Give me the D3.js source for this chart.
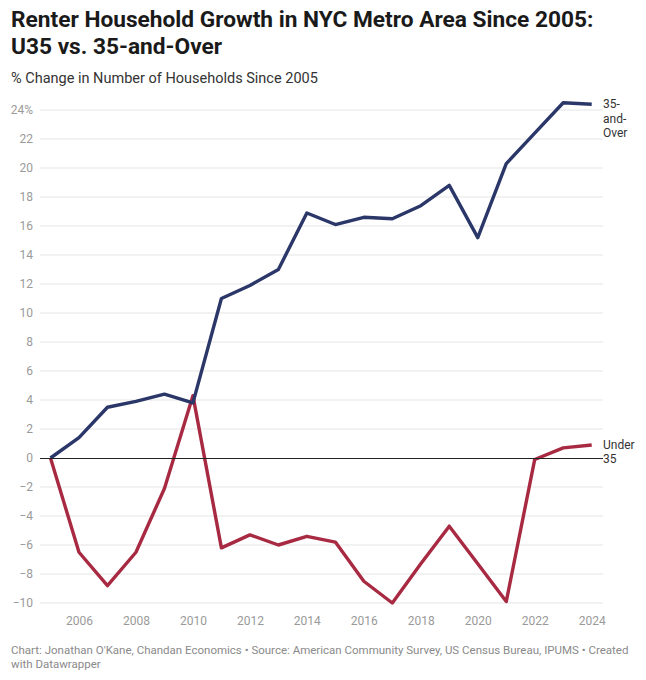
<!DOCTYPE html>
<html>
<head>
<meta charset="utf-8">
<script src="https://cdn.jsdelivr.net/npm/d3@7"></script>
<style>
  body { margin: 0; background: #fff; font-family: Roboto, "Noto Sans", sans-serif; }
</style>
</head>
<body>
<div id="chart"></div>
<script>
// data
const years = [2005, 2006, 2007, 2008, 2009, 2010, 2011, 2012, 2013, 2014,
               2015, 2016, 2017, 2018, 2019, 2020, 2021, 2022, 2023, 2024];
const over35 = [0, 1.4, 3.5, 3.9, 4.4, 3.8, 11.0, 11.9, 13.0, 16.9,
                16.1, 16.6, 16.5, 17.4, 18.8, 15.2, 20.3, 22.4, 24.5, 24.4];
const under35 = [0, -6.5, -8.8, -6.5, -2.1, 4.3, -6.2, -5.3, -6.0, -5.4,
                 -5.8, -8.5, -10.0, -7.3, -4.7, -7.3, -9.9, -0.1, 0.7, 0.9];
const yTicks = [-10, -8, -6, -4, -2, 0, 2, 4, 6, 8, 10, 12, 14, 16, 18, 20, 22, 24];
const xTicks = [2006, 2008, 2010, 2012, 2014, 2016, 2018, 2020, 2022, 2024];
const seriesNames = [["35-", "and-", "Over"], ["Under", "35"]];

const W = 646, H = 680;
const plot = {left: 40, right: 603, top: 110, bottom: 603};

const svg = d3.select("#chart")
    .append("svg")
    .attr("width", W)
    .attr("height", H);

// title + subtitle
const title = svg.append("text")
    .attr("x", 11)
    .attr("y", 27)
    .style("font-size", "22.7px")
    .style("font-weight", "700")
    .attr("fill", "#1a1a1a");
title.append("tspan").attr("x", 11).text("Renter Household Growth in NYC Metro Area Since 2005:");
title.append("tspan").attr("x", 11).attr("dy", 26.5).text("U35 vs. 35-and-Over");

svg.append("text")
    .attr("x", 11)
    .attr("y", 83)
    .style("font-size", "14.5px")
    .attr("fill", "#333")
    .text("% Change in Number of Households Since 2005");

// scales
const x = d3.scaleLinear()
    .domain([2005, 2024])
    .range([50.5, 591.7]);

const y = d3.scaleLinear()
    .domain([-10, 24])
    .range([plot.bottom, plot.top]);

// grid lines
svg.append("g")
    .selectAll("line")
    .data(yTicks.filter(d => d !== 0))
    .join("line")
    .attr("x1", plot.left)
    .attr("x2", plot.right)
    .attr("y1", d => y(d))
    .attr("y2", d => y(d))
    .attr("stroke", "#e5e5e5")
    .attr("stroke-width", 1);

// y labels
svg.append("g")
    .selectAll("text")
    .data(yTicks)
    .join("text")
    .attr("x", 33)
    .attr("y", d => y(d))
    .attr("dy", "0.35em")
    .attr("text-anchor", "end")
    .style("font-size", "12px")
    .attr("fill", "#9a9a9a")
    .text(d => d === 24 ? "24%" : (d < 0 ? "\u2212" + Math.abs(d) : d));

// x axis labels
const xAxis = svg.append("g")
    .attr("transform", `translate(0, ${plot.bottom})`)
    .call(d3.axisBottom(x).tickValues(xTicks).tickFormat(d3.format("d")).tickSize(0).tickPadding(13));
xAxis.select(".domain").remove();
xAxis.selectAll("text")
    .style("font-size", "12px")
    .style("font-family", "Roboto, sans-serif")
    .attr("fill", "#9a9a9a");

// lines
const line = d3.line()
    .x((d, i) => x(years[i]))
    .y(d => y(d));

const lineColors = ["#2a3768", "#a82a42"];

svg.append("path")
    .datum(under35)
    .attr("d", line)
    .attr("fill", "none")
    .attr("stroke", lineColors[1])
    .attr("stroke-width", 3.4)
    .attr("stroke-linejoin", "round");

svg.append("path")
    .datum(over35)
    .attr("d", line)
    .attr("fill", "none")
    .attr("stroke", lineColors[0])
    .attr("stroke-width", 3.4)
    .attr("stroke-linejoin", "round");

// zero line
svg.append("line")
    .attr("x1", plot.left)
    .attr("x2", plot.right)
    .attr("y1", Math.round(y(0)) + 0.5)
    .attr("y2", Math.round(y(0)) + 0.5)
    .attr("stroke", "#222")
    .attr("stroke-width", 1);

// series labels
const lastVals = [over35[over35.length - 1], under35[under35.length - 1]];
seriesNames.forEach(function(lines, k) {
    const t = svg.append("text")
        .attr("x", 603)
        .attr("y", y(lastVals[k]) + 4)
        .style("font-size", "12px")
        .attr("fill", "#333");
    lines.forEach(function(s, j) {
        t.append("tspan").attr("x", 603).attr("dy", j === 0 ? 0 : 14.5).text(s);
    });
});

// footer
const foot = svg.append("text")
    .attr("x", 11)
    .attr("y", 654)
    .style("font-size", "11.5px")
    .attr("fill", "#8a8a8a");
foot.append("tspan").attr("x", 11)
    .text("Chart: Jonathan O'Kane, Chandan Economics \u2022 Source: American Community Survey, US Census Bureau, IPUMS \u2022 Created");
foot.append("tspan").attr("x", 11).attr("dy", 14).text("with Datawrapper");
</script>
</body>
</html>
